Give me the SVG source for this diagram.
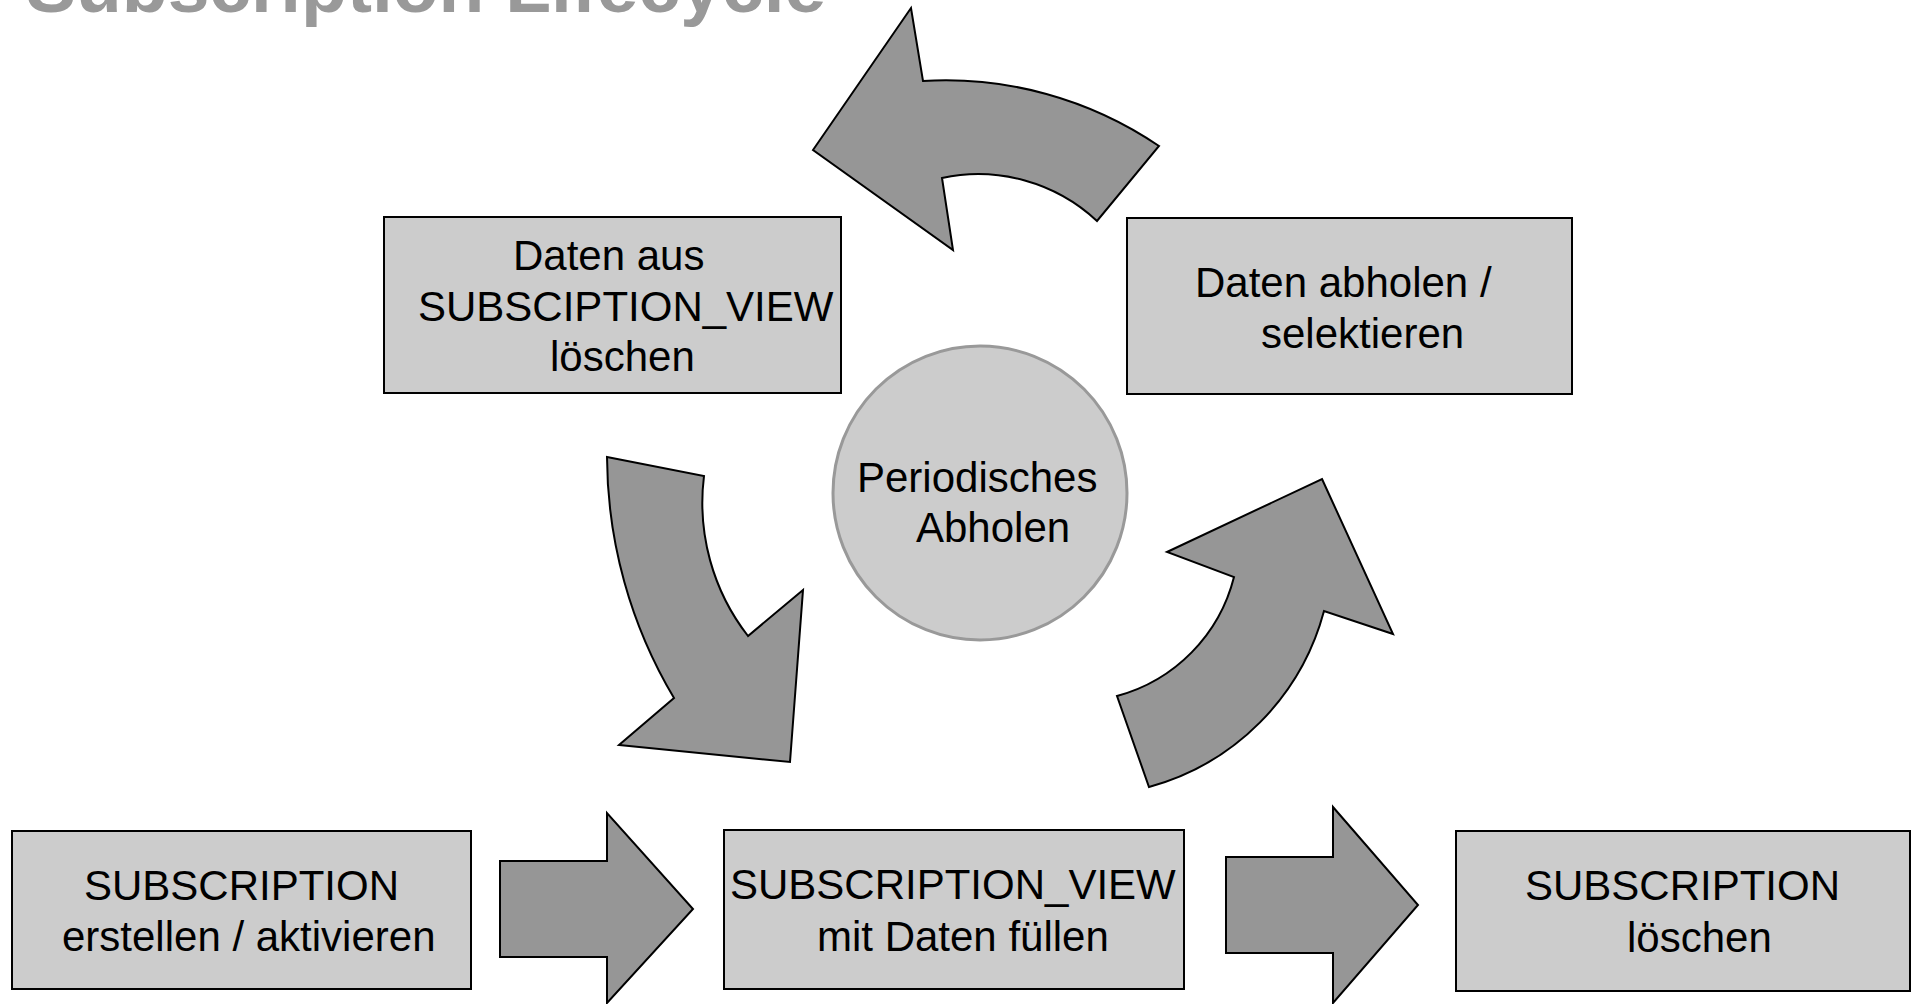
<svg xmlns="http://www.w3.org/2000/svg" width="1912" height="1004" viewBox="0 0 1912 1004">
  <style>
    .box { fill: #cccccc; stroke: #000000; stroke-width: 2; }
    .hub { fill: #cccccc; stroke: #999999; stroke-width: 3; }
    .arrow { fill: #969696; stroke: #000000; stroke-width: 2; stroke-linejoin: miter; }
    .label { font-family: "Liberation Sans", Arial, sans-serif; font-size: 42px; fill: #000000; }
    .title { font-family: "Liberation Sans", Arial, sans-serif; font-size: 75px; font-weight: bold; fill: #999999; }
  </style>

  <text class="title" x="26" y="12">Subscription Lifecycle</text>

  <!-- connectors: curved cycle arrows and straight block arrows -->
  <g id="connectors">
    <path id="arrow-cycle-top" class="arrow" d="M 813,150 L 911,8 L 923,81 A 379 379 0 0 1 1159,146 L 1097,221 A 174 174 0 0 0 942,178 L 953,250 Z"/>
    <path id="arrow-cycle-left" class="arrow" d="M 607,457 L 704,476 A 217 217 0 0 0 748,636 L 803,590 L 790,762 L 619,745 L 674,698 A 475 475 0 0 1 607,457 Z"/>
    <path id="arrow-cycle-right" class="arrow" d="M 1322,479 L 1393,634 L 1324,611 A 249 249 0 0 1 1149,787 L 1117,696 A 165 165 0 0 0 1234,577 L 1167,552 Z"/>
    <path id="arrow-create-fill" class="arrow" d="M 500,861 L 607,861 L 607,813 L 693,909 L 607,1003 L 607,957 L 500,957 Z"/>
    <path id="arrow-fill-delete" class="arrow" d="M 1226,857 L 1333,857 L 1333,807 L 1418,905 L 1333,1003 L 1333,953 L 1226,953 Z"/>
  </g>

  <g id="node-delete-view-data">
    <rect class="box" x="384" y="217" width="457" height="176"/>
    <text class="label" x="513" y="270">Daten aus</text>
    <text class="label" x="418" y="321">SUBSCIPTION_VIEW</text>
    <text class="label" x="550" y="371">löschen</text>
  </g>

  <g id="node-fetch-data">
    <rect class="box" x="1127" y="218" width="445" height="176"/>
    <text class="label" x="1195" y="297">Daten abholen /</text>
    <text class="label" x="1261" y="348">selektieren</text>
  </g>

  <g id="node-periodic">
    <circle class="hub" cx="980" cy="493" r="147"/>
    <text class="label" x="857" y="492">Periodisches</text>
    <text class="label" x="916" y="542">Abholen</text>
  </g>

  <g id="node-create-subscription">
    <rect class="box" x="12" y="831" width="459" height="158"/>
    <text class="label" x="84" y="900">SUBSCRIPTION</text>
    <text class="label" x="62" y="951">erstellen / aktivieren</text>
  </g>

  <g id="node-fill-view">
    <rect class="box" x="724" y="830" width="460" height="159"/>
    <text class="label" x="730" y="899">SUBSCRIPTION_VIEW</text>
    <text class="label" x="817" y="951">mit Daten füllen</text>
  </g>

  <g id="node-delete-subscription">
    <rect class="box" x="1456" y="831" width="454" height="160"/>
    <text class="label" x="1525" y="900">SUBSCRIPTION</text>
    <text class="label" x="1627" y="952">löschen</text>
  </g>
</svg>
